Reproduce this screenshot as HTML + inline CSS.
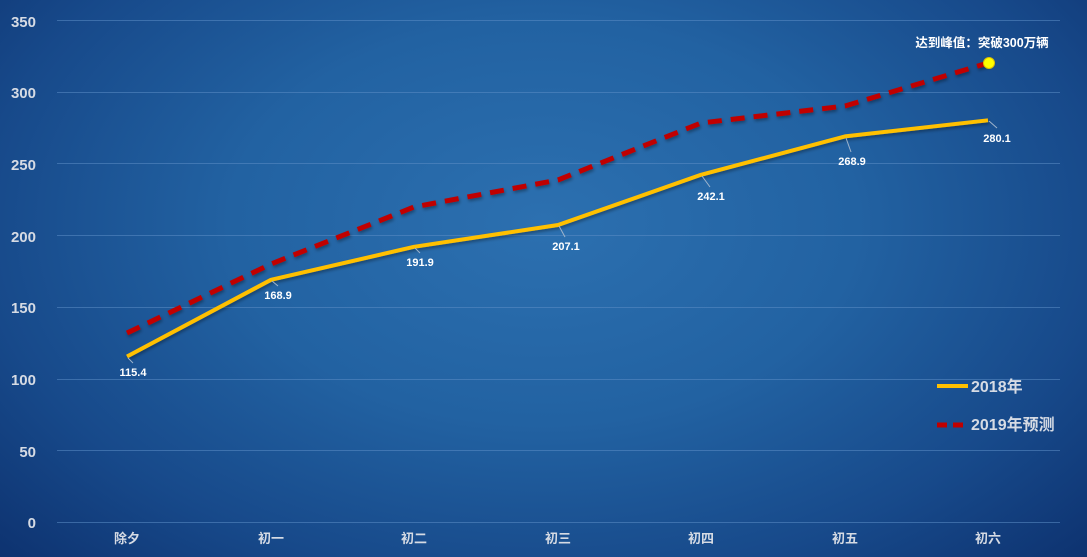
<!DOCTYPE html>
<html><head><meta charset="utf-8"><style>
html,body{margin:0;padding:0;}
body{width:1087px;height:557px;overflow:hidden;background:radial-gradient(ellipse 72% 90% at 50% 40%,#2c70b0 0%,#2262a2 40%,#17498a 72%,#0c2f6c 100%);font-family:"Liberation Sans","Noto Sans CJK SC",sans-serif;}
</style></head><body>
<svg width="1087" height="557" xmlns="http://www.w3.org/2000/svg" style="position:absolute;left:0;top:0">
<defs><filter id="sh" x="-5%" y="-5%" width="110%" height="120%"><feDropShadow dx="1" dy="2" stdDeviation="1.5" flood-color="#000" flood-opacity="0.35"/></filter></defs>
<g stroke="#5b8cc4" stroke-opacity="0.55" stroke-width="1">
<line x1="57" x2="1060" y1="20.5" y2="20.5"/><line x1="57" x2="1060" y1="92.5" y2="92.5"/><line x1="57" x2="1060" y1="163.5" y2="163.5"/><line x1="57" x2="1060" y1="235.5" y2="235.5"/><line x1="57" x2="1060" y1="307.5" y2="307.5"/><line x1="57" x2="1060" y1="379.5" y2="379.5"/><line x1="57" x2="1060" y1="450.5" y2="450.5"/><line x1="57" x2="1060" y1="522.5" y2="522.5"/>
</g>
<g fill="#d6dbe4" font-size="15" font-weight="bold" text-anchor="end">
<text x="36" y="27">350</text><text x="36" y="98">300</text><text x="36" y="170">250</text><text x="36" y="242">200</text><text x="36" y="313">150</text><text x="36" y="385">100</text><text x="36" y="457">50</text><text x="36" y="528">0</text>
</g>
<g fill="#d6dbe4" font-size="13" font-weight="bold" text-anchor="middle">
<text x="127" y="543">除夕</text><text x="271" y="543">初一</text><text x="414" y="543">初二</text><text x="558" y="543">初三</text><text x="701" y="543">初四</text><text x="845" y="543">初五</text><text x="988" y="543">初六</text>
</g>
<polyline filter="url(#sh)" fill="none" stroke="#ffc000" stroke-width="4" stroke-linejoin="round" points="127,356.5 271,279.8 414,246.8 558,225 701,174.8 845,136.4 988,120.3"/>
<polyline filter="url(#sh)" fill="none" stroke="#c00000" stroke-width="5" stroke-dasharray="14,9" stroke-linejoin="round" points="127,333 271,264 414,207 558,180 701,123 845,106 988,63"/>
<circle cx="989" cy="63" r="5.5" fill="#ffff00" stroke="#e0c000" stroke-width="1"/>
<g stroke="#9fb4cc" stroke-width="1">
<line x1="128" y1="358" x2="133" y2="363"/><line x1="272" y1="281" x2="278" y2="286"/><line x1="415" y1="248" x2="420" y2="253"/><line x1="559" y1="226" x2="565" y2="237"/><line x1="702" y1="176" x2="710" y2="187"/><line x1="846" y1="138" x2="851" y2="152"/><line x1="989" y1="121" x2="997" y2="128"/>
</g>
<g fill="#ffffff" font-size="11" font-weight="bold" text-anchor="middle">
<text x="133" y="376">115.4</text><text x="278" y="299">168.9</text><text x="420" y="266">191.9</text><text x="566" y="250">207.1</text><text x="711" y="200">242.1</text><text x="852" y="165">268.9</text><text x="997" y="142">280.1</text>
</g>
<text x="982" y="47" fill="#ffffff" font-size="12.5" font-weight="bold" text-anchor="middle">达到峰值：突破300万辆</text>
<line x1="937" y1="386" x2="968" y2="386" stroke="#ffc000" stroke-width="4"/>
<text x="971" y="392" fill="#d6dbe4" font-size="16" font-weight="bold">2018年</text>
<line x1="937" y1="425" x2="968" y2="425" stroke="#c00000" stroke-width="5" stroke-dasharray="10,6"/>
<text x="971" y="430" fill="#d6dbe4" font-size="16" font-weight="bold">2019年预测</text>
</svg>
</body></html>
